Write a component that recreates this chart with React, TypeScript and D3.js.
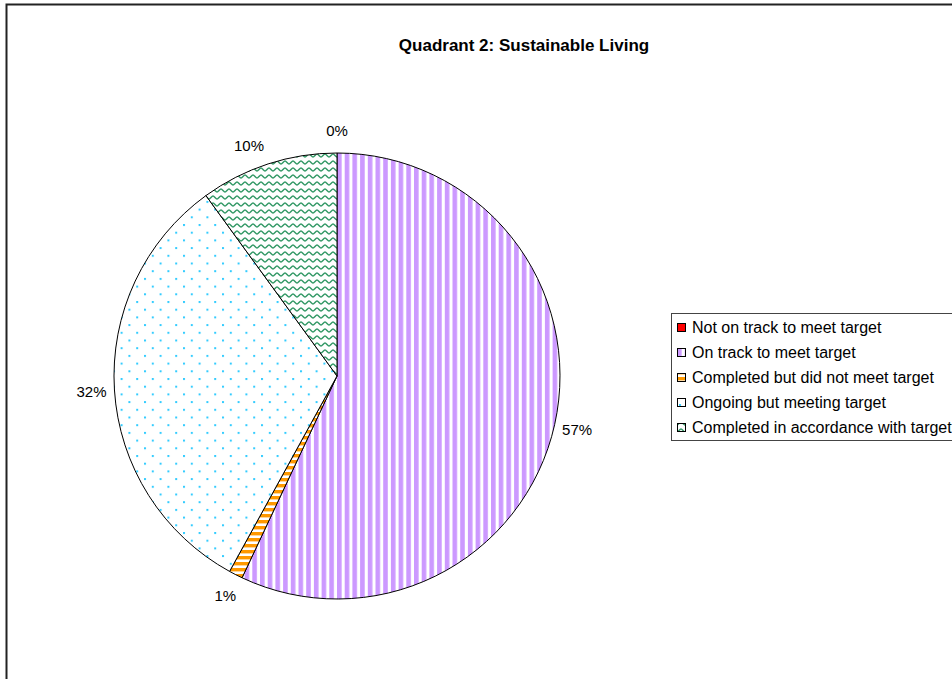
import { useRef, useEffect } from 'react';
import * as d3 from 'd3';

// chart data
const categories = [
  'Not on track to meet target',
  'On track to meet target',
  'Completed but did not meet target',
  'Ongoing but meeting target',
  'Completed in accordance with target',
];
const values = [0, 57, 1, 32, 10];
const valueLabels = ['0%', '57%', '1%', '32%', '10%'];
const title = 'Quadrant 2: Sustainable Living';

const patternIds = ['pat-red', 'pat-purple', 'pat-orange', 'pat-dots', 'pat-wave'];

const WIDTH = 952;
const HEIGHT = 679;

const PieChart: React.FC = () => {
  const svgRef = useRef<SVGSVGElement>(null);

  useEffect(() => {
    if (!svgRef.current) return;
    const svg = d3.select(svgRef.current);
    svg.selectAll('*').remove();

    svg.attr('width', WIDTH).attr('height', HEIGHT);

    // fill patterns
    const defs = svg.append('defs');

    const red = defs.append('pattern')
      .attr('id', 'pat-red')
      .attr('patternUnits', 'userSpaceOnUse')
      .attr('width', 8).attr('height', 8);
    red.append('rect').attr('width', 8).attr('height', 8).attr('fill', '#ff0000');

    const purple = defs.append('pattern')
      .attr('id', 'pat-purple')
      .attr('patternUnits', 'userSpaceOnUse')
      .attr('width', 7.7).attr('height', 10);
    purple.append('rect').attr('width', 7.7).attr('height', 10).attr('fill', '#ffffff');
    purple.append('rect').attr('width', 4.6).attr('height', 10).attr('fill', '#cc99ff');

    const orange = defs.append('pattern')
      .attr('id', 'pat-orange')
      .attr('patternUnits', 'userSpaceOnUse')
      .attr('width', 10).attr('height', 6);
    orange.append('rect').attr('width', 10).attr('height', 6).attr('fill', '#ffffff');
    orange.append('rect').attr('width', 10).attr('height', 3.4).attr('fill', '#ff9900');

    const dots = defs.append('pattern')
      .attr('id', 'pat-dots')
      .attr('patternUnits', 'userSpaceOnUse')
      .attr('x', 2).attr('y', 2)
      .attr('width', 15.6).attr('height', 15.4);
    dots.append('rect').attr('width', 15.6).attr('height', 15.4).attr('fill', '#ffffff');
    dots.append('rect').attr('x', 0).attr('y', 0).attr('width', 2).attr('height', 2).attr('fill', '#33ccff');
    dots.append('rect').attr('x', 7.8).attr('y', 7.7).attr('width', 2).attr('height', 2).attr('fill', '#33ccff');

    const wave = defs.append('pattern')
      .attr('id', 'pat-wave')
      .attr('patternUnits', 'userSpaceOnUse')
      .attr('width', 8).attr('height', 7);
    wave.append('rect').attr('width', 8).attr('height', 7).attr('fill', '#ffffff');
    wave.append('path')
      .attr('d', 'M0,5 C1.3,5 2.7,2 4,2 C5.3,2 6.7,5 8,5')
      .attr('fill', 'none')
      .attr('stroke', '#339966')
      .attr('stroke-width', 1.5);

    // outer frame
    svg.append('rect')
      .attr('x', 6.5).attr('y', 4.5)
      .attr('width', WIDTH + 40).attr('height', HEIGHT + 40)
      .attr('fill', '#ffffff')
      .attr('stroke', '#222222')
      .attr('stroke-width', 2);

    // title
    svg.append('text')
      .attr('x', 524)
      .attr('y', 51)
      .attr('text-anchor', 'middle')
      .attr('font-family', 'Liberation Sans, Arial, sans-serif')
      .attr('font-weight', 'bold')
      .attr('font-size', '17px')
      .attr('fill', '#000')
      .text(title);

    // pie
    const cx = 337;
    const cy = 376;
    const radius = 223;

    const pie = d3.pie<number>().sort(null).value(d => d);
    const arcs = pie(values);
    const arc = d3.arc<d3.PieArcDatum<number>>().innerRadius(0).outerRadius(radius);
    const labelArc = d3.arc<d3.PieArcDatum<number>>().innerRadius(radius + 23).outerRadius(radius + 23);

    const g = svg.append('g').attr('transform', `translate(${cx},${cy})`);

    g.selectAll('path.slice')
      .data(arcs)
      .enter()
      .append('path')
      .attr('class', 'slice')
      .attr('d', arc)
      .attr('fill', (_, i) => `url(#${patternIds[i]})`)
      .attr('stroke', '#000')
      .attr('stroke-width', 1)
      .attr('stroke-linejoin', 'round');

    g.selectAll('text.val')
      .data(arcs)
      .enter()
      .append('text')
      .attr('class', 'val')
      .attr('transform', d => {
        const [x, y] = labelArc.centroid(d);
        // Excel pushes small upper-left labels a bit further out sideways
        const dx = x < 0 && y < -150 ? -12 : 0;
        return `translate(${x + dx},${y + (dx ? 3 : 0)})`;
      })
      .attr('text-anchor', 'middle')
      .attr('dominant-baseline', 'central')
      .attr('font-family', 'Liberation Sans, Arial, sans-serif')
      .attr('font-size', '15px')
      .attr('fill', '#000')
      .text((_, i) => valueLabels[i]);

    // legend
    const legendX = 671;
    const legendY = 313;
    const rowH = 25;

    svg.append('rect')
      .attr('x', legendX + 0.5)
      .attr('y', legendY + 0.5)
      .attr('width', 320)
      .attr('height', rowH * categories.length + 2)
      .attr('fill', '#ffffff')
      .attr('stroke', '#444444')
      .attr('stroke-width', 1);

    const items = svg.selectAll('g.legend-item')
      .data(categories)
      .enter()
      .append('g')
      .attr('class', 'legend-item')
      .attr('transform', (_, i) => `translate(${legendX + 6}, ${legendY + 14 + i * rowH})`);

    items.append('rect')
      .attr('x', 0.5)
      .attr('y', -3.5)
      .attr('width', 8)
      .attr('height', 8)
      .attr('fill', (_, i) => `url(#${patternIds[i]})`)
      .attr('stroke', '#000')
      .attr('stroke-width', 1);

    items.append('text')
      .attr('x', 15)
      .attr('y', 0)
      .attr('dominant-baseline', 'central')
      .attr('font-family', 'Liberation Sans, Arial, sans-serif')
      .attr('font-size', '16px')
      .attr('fill', '#000')
      .text(d => d);
  }, []);

  return <svg ref={svgRef} style={{ display: 'block' }} />;
};

export default function App() {
  return (
    <div style={{ position: 'fixed', left: 0, top: 0, width: WIDTH, height: HEIGHT, overflow: 'hidden', background: '#fff' }}>
      <PieChart />
    </div>
  );
}
